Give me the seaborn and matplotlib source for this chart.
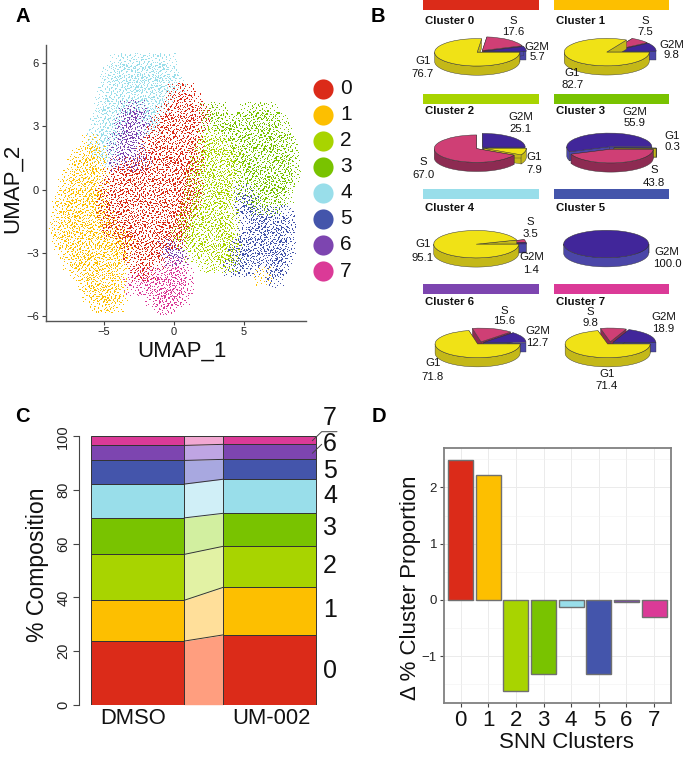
import numpy as np
import pandas as pd
import matplotlib
matplotlib.use("Agg")
import matplotlib.pyplot as plt
from matplotlib.path import Path
from matplotlib.patches import Rectangle
import seaborn as sns

sns.set_theme(style="white")
plt.rcParams["font.family"] = ["Liberation Sans", "DejaVu Sans"]

W, H = 685, 761
CLUSTERS = ["0", "1", "2", "3", "4", "5", "6", "7"]
COLORS = ["#DB2B19", "#FDBF00", "#A8D400", "#79C300", "#99DEEA", "#4455AB", "#7D45B0", "#DB3A97"]
LIGHT = ["#FF9E7F", "#FFDF9A", "#E2F2A4", "#D2EFA0", "#D0EFF7", "#A8A8E0", "#BFA5E3", "#F2A8D2"]

# Panel A: positions, row by row (UMAP_2 value, UMAP_1 values)
ROWS_4 = [(6.0, [-3.9, -3.2, -2.5, -1.8, -1.1, -0.4]), (5.5, [-4.5, -3.8, -3.1, -2.4, -1.7, -1.0, -0.3]),
          (5.0, [-4.6, -3.9, -3.2, -2.7, -2.5, -1.8, -1.1, -0.4, 0.2]), (4.5, [-4.8, -4.1, -3.4, -2.7, -2.0, -1.3, -0.6]),
          (4.0, [-5.0, -4.3, -3.6, -2.9, -2.2, -1.5, -0.9]), (3.5, [-5.1, -4.4, -3.7, -2.0, -1.4]),
          (3.0, [-5.3, -4.6, -3.9, -2.0, -1.5]), (2.5, [-5.5, -4.8, -4.2]), (2.0, [-5.4, -4.7]), (1.5, [-5.1, -4.5])]
ROWS_6 = [(3.8, [-3.2, -2.6]), (3.3, [-3.5, -2.8, -2.2]), (2.8, [-3.6, -3.0, -2.4]), (2.3, [-4.0, -3.3, -2.7]),
          (1.8, [-4.1, -3.4, -2.6]), (1.3, [-3.9, -3.0, -2.2]), (-2.8, [-0.4, 0.1]), (-3.2, [0.0, 0.4])]
ROWS_0 = [(4.6, [0.2, 0.9]), (4.1, [0.0, 0.7, 1.4]), (3.6, [-0.6, 0.1, 0.8, 1.5, 2.0]),
          (3.1, [-1.0, -0.3, 0.4, 1.1, 1.8]), (2.6, [-1.3, -0.6, 0.1, 0.8, 1.5]),
          (2.1, [-1.8, -1.1, -0.4, 0.3, 1.0, 1.6]), (1.6, [-2.0, -1.3, -0.6, 0.1, 0.8, 1.5]),
          (1.1, [-3.9, -3.2, -2.5, -1.8, -1.1, -0.4, 0.3, 1.0, 1.6]),
          (0.6, [-4.4, -3.7, -3.0, -2.3, -1.6, -0.9, -0.2, 0.5, 1.2]),
          (0.1, [-4.7, -4.0, -3.3, -2.6, -1.9, -1.2, -0.5, 0.2, 0.9, 1.5]),
          (-0.4, [-4.9, -4.2, -3.5, -2.8, -2.1, -1.4, -0.7, 0.0, 0.7, 1.4]),
          (-0.9, [-4.9, -4.2, -3.5, -2.8, -2.1, -1.4, -0.7, 0.0, 0.6, 1.1]),
          (-1.4, [-4.7, -4.0, -3.3, -2.6, -1.9, -1.2, -0.5, 0.2, 0.7]),
          (-1.9, [-4.4, -3.7, -3.0, -2.3, -1.6, -0.9, -0.2, 0.5]),
          (-2.4, [-3.5, -2.8, -2.1, -1.4, -0.7, 0.0, 0.3]), (-2.9, [-3.0, -2.3, -1.6, -0.9]),
          (-3.4, [-2.8, -2.1, -1.3]), (-3.9, [-2.4, -1.9])]
ROWS_1 = [(2.2, [-5.9]), (1.6, [-6.7, -6.0, -5.4]), (1.1, [-6.9, -6.2, -5.5]), (0.6, [-7.3, -6.6, -5.9, -5.2]),
          (0.1, [-7.6, -6.9, -6.2, -5.5]), (-0.4, [-7.8, -7.1, -6.4, -5.7, -5.2]),
          (-0.9, [-8.0, -7.3, -6.6, -5.9, -5.2]), (-1.4, [-8.1, -7.4, -6.7, -6.0, -5.3, -4.7]),
          (-1.9, [-8.2, -7.5, -6.8, -6.1, -5.4, -4.7, -4.1]),
          (-2.4, [-8.0, -7.3, -6.6, -5.9, -5.2, -4.5, -3.8, -3.3]),
          (-2.9, [-7.6, -6.9, -6.2, -5.5, -4.8, -4.1, -3.6]), (-3.4, [-7.3, -6.6, -5.9, -5.2, -4.5, -3.8]),
          (-3.9, [-6.8, -6.1, -5.4, -4.7, -4.0]), (-4.1, [6.4]), (-4.4, [-6.2, -5.5, -4.8, -4.1]),
          (-4.9, [-5.9, -5.2, -4.5, -3.9]), (-5.4, [-5.4, -4.8, -4.2])]
ROWS_7 = [(-3.6, [-0.2, 0.4]), (-4.1, [-2.6, -1.9, -1.2, -0.5, 0.2, 0.8]),
          (-4.6, [-2.9, -2.0, -1.3, -0.6, 0.1, 0.8]), (-5.1, [-1.4, -0.7, 0.0, 0.5]), (-5.5, [-0.8, -0.4])]
ROWS_2 = [(2.5, [2.3, 3.0]), (2.0, [2.2, 2.9, 3.6, 4.2]), (1.5, [1.8, 2.5, 3.2, 3.9, 4.5]),
          (1.0, [1.6, 2.3, 3.0, 3.7, 4.4]), (0.5, [1.5, 2.2, 2.9, 3.6, 4.2]), (0.0, [1.4, 2.1, 2.8, 3.5, 4.1]),
          (-0.5, [1.3, 2.0, 2.7, 3.4, 3.9]), (-1.0, [1.1, 1.8, 2.5, 3.2, 3.9]),
          (-1.5, [0.8, 1.5, 2.2, 2.9, 3.6, 4.1]), (-2.0, [0.5, 1.2, 1.9, 2.6, 3.3, 4.0]),
          (-2.5, [0.9, 1.6, 2.3, 3.0, 3.7, 4.2]), (-3.0, [1.4, 2.1, 2.8, 3.5, 4.1]), (-3.5, [2.3, 3.0, 3.7, 4.2])]
ROWS_3 = [(3.7, [2.5, 3.2, 5.4, 6.1, 6.8]), (3.2, [2.7, 3.4, 4.1, 4.8, 5.5, 6.2, 6.9, 7.6]),
          (2.7, [3.6, 4.3, 5.0, 5.7, 6.4, 7.1, 7.8]), (2.2, [4.7, 5.4, 6.1, 6.8, 7.5, 8.2]),
          (1.7, [4.8, 5.5, 6.2, 6.9, 7.6, 8.3]), (1.2, [4.9, 5.6, 6.3, 7.0, 7.7, 8.4]),
          (0.7, [5.0, 5.7, 6.4, 7.1, 7.8, 8.4]), (0.2, [5.2, 5.9, 6.6, 7.3, 8.0]),
          (-0.3, [5.3, 6.0, 6.7, 7.4, 7.9]), (-0.8, [6.1, 7.0])]
ROWS_5 = [(-0.2, [5.0]), (-0.7, [5.0, 5.6]), (-1.2, [5.1, 5.8, 6.5, 7.2, 8.0]),
          (-1.7, [5.5, 6.2, 6.9, 7.6, 8.1]), (-2.2, [5.2, 5.9, 6.6, 7.3, 8.0]),
          (-2.7, [4.7, 5.4, 6.1, 6.8, 7.5, 8.1]), (-3.2, [4.6, 5.3, 6.0, 6.7, 7.4, 7.9]),
          (-3.7, [4.2, 4.9, 5.6, 7.2, 7.6]), (-4.2, [7.2])]
ALL_ROWS = {"4": ROWS_4, "1": ROWS_1, "2": ROWS_2, "3": ROWS_3, "5": ROWS_5, "7": ROWS_7, "0": ROWS_0, "6": ROWS_6}

# Panel B: cell cycle shares, in drawing order
PHASES = ["G2M", "S", "G1"]
G2M = [5.7, 9.8, 25.1, 55.9, 1.4, 100.0, 12.7, 18.9]
S = [17.6, 7.5, 67.0, 43.8, 3.5, 0.0, 15.6, 9.8]
G1 = [76.7, 82.7, 7.9, 0.3, 95.1, 0.0, 71.8, 71.4]
PHASE_TOP = ["#41269A", "#CF3F75", "#F0E216"]
PHASE_SIDE = ["#4B46A8", "#8D2B52", "#C4B818"]

# Panel C
GROUPS = ["DMSO", "UM-002"]
DMSO = [23.7, 15.2, 17.1, 13.6, 12.6, 8.8, 5.6, 3.4]
UM002 = [26.0, 17.7, 15.3, 12.3, 12.7, 7.4, 5.6, 3.0]

# Panel D
DELTA = [2.49, 2.22, -1.62, -1.31, -0.13, -1.32, -0.04, -0.31]

fig = plt.figure(figsize=(W / 100, H / 100), dpi=100, facecolor="white")


def px_axes(left, top, right, bottom):
    return fig.add_axes([left / W, 1 - bottom / H, (right - left) / W, (bottom - top) / H])


ov = fig.add_axes([0, 0, 1, 1], zorder=10)
ov.set_xlim(0, W)
ov.set_ylim(H, 0)
ov.axis("off")
ov.patch.set_alpha(0)


def label(x, y, s, size, **kw):
    ov.text(x, y, s, fontsize=size, ha=kw.pop("ha", "center"), va="center", color=kw.pop("color", "#111111"), **kw)


for (x, y, s) in [(23, 16, "A"), (378, 16, "B"), (22, 416, "C"), (379, 416, "D")]:
    label(x, y, s, 14.5, fontweight="bold", color="black")

# ---------- Panel A ----------
# small speckle markers, so each read position shows as a patch of fine cell dots
SPECKLE = [(-0.92, 0.12), (-0.78, -0.35), (-0.71, 0.58), (-0.55, -0.71), (-0.48, 0.07), (-0.44, 0.83), (-0.31, -0.29),
           (-0.24, 0.41), (-0.17, -0.88), (-0.08, 0.03), (-0.02, 0.71), (0.05, -0.52), (0.16, 0.33), (0.2, -0.13),
           (0.28, 0.91), (0.35, -0.77), (0.42, 0.56), (0.47, -0.31), (0.6, 0.11), (0.66, -0.58), (0.7, 0.76),
           (0.81, -0.16), (0.88, 0.38), (0.93, -0.74), (-0.66, -0.08), (-0.38, -0.56), (0.1, -0.93), (-0.86, 0.79)]
DOT = 0.058


def speckle_path(rot):
    verts, codes = [], []
    for (sx, sy) in SPECKLE + [(1.0, 1.0), (-1.0, -1.0)]:
        for _ in range(rot):
            sx, sy = -sy, sx
        d = DOT if max(abs(sx), abs(sy)) < 1 else 0.0001
        verts += [(sx - d, sy - d), (sx + d, sy - d), (sx + d, sy + d), (sx - d, sy + d), (sx - d, sy - d)]
        codes += [Path.MOVETO, Path.LINETO, Path.LINETO, Path.LINETO, Path.CLOSEPOLY]
    return Path(verts, codes)


records = []
for c, rows in ALL_ROWS.items():
    for r, (y, xs) in enumerate(rows):
        for j, x in enumerate(xs):
            records.append((x, y, c, str((r * 3 + j) % 4)))
umap = pd.DataFrame(records, columns=["UMAP_1", "UMAP_2", "cluster", "texture"])

axA = px_axes(45.7, 45, 306, 320.5)
sns.scatterplot(data=umap, x="UMAP_1", y="UMAP_2", hue="cluster", style="texture",
                palette=dict(zip(CLUSTERS, COLORS)),
                markers={str(k): speckle_path(k) for k in range(4)},
                s=190, linewidth=0, legend=False, ax=axA, zorder=3)
axA.set_xlim(-9.13, 9.46)
axA.set_ylim(-6.2, 6.84)
axA.set_xticks([-5, 0, 5])
axA.set_yticks([-6, -3, 0, 3, 6])
axA.set_xticklabels(["\u22125", "0", "5"])
axA.set_yticklabels(["\u22126", "\u22123", "0", "3", "6"])
axA.set_xlabel("")
axA.set_ylabel("")
axA.tick_params(labelsize=8, length=3, width=0.8, color="#444444", labelcolor="#222222", bottom=True, left=True, pad=2)
sns.despine(ax=axA)
for sp in ("left", "bottom"):
    axA.spines[sp].set_color("#555555")
    axA.spines[sp].set_linewidth(1.0)
label(182, 351, "UMAP_1", 16)
label(12, 188, "UMAP_2", 16, rotation=90)
for i, c in enumerate(CLUSTERS):
    yy = 88.7 + i * 26.05
    ov.plot([323], [yy], marker="o", ms=14.5, color=COLORS[i], mec="none")
    label(346, yy, c, 15)

# ---------- Panel B ----------
CENTERS = [(480, 51.5), (610, 51.5), (480, 148), (610, 148), (480, 244), (610, 244), (480, 343), (610, 343)]
BAR_X = [423.3, 553.7]
BAR_Y = [0, 94.3, 189.3, 284.3]
TITLE_Y = [20.7, 111, 207.7, 302]
RX, RY, DEPTH_PX = 42.5, 13.7, 9.2
EXPLODE = 0.09
DEPTH = DEPTH_PX / RY

for i in range(8):
    col, row = i % 2, i // 2
    ov.add_patch(Rectangle((BAR_X[col], BAR_Y[row]), 115.5, 10, fc=COLORS[i], ec="none"))
    ov.text(BAR_X[col] + 2, TITLE_Y[row], f"Cluster {i}", fontsize=8.2, fontweight="bold", ha="left", va="center",
            color="#111111")
    vals = [G2M[i], S[i], G1[i]]
    cx, cy = CENTERS[i]
    ax = px_axes(cx - 1.3 * RX, cy - 1.3 * RY, cx + 1.3 * RX, cy + 2.2 * RY)
    wedges, _ = ax.pie(vals, startangle=0, radius=1, explode=[EXPLODE] * 3, colors=PHASE_TOP,
                       wedgeprops=dict(edgecolor="#333333", linewidth=0.35))
    ax.set_aspect("auto")
    ax.set_xlim(-1.3, 1.3)
    ax.set_ylim(-2.2, 1.3)
    ax.axis("off")
    cum = np.cumsum([0] + vals) * 3.6
    order = sorted(range(3), key=lambda k: -np.sin(np.radians((cum[k] + cum[k + 1]) / 2)))
    for rank, k in enumerate(order):
        a, b = cum[k], cum[k + 1]
        if b - a <= 0:
            wedges[k].set_visible(False)
            continue
        m = np.radians((a + b) / 2)
        ox, oy = EXPLODE * np.cos(m), EXPLODE * np.sin(m)
        z = 2 + 2 * rank
        wedges[k].set_zorder(z + 1)
        for t in (a, b):
            tr = np.radians(t)
            ax.fill([ox, ox + np.cos(tr), ox + np.cos(tr), ox], [oy, oy + np.sin(tr), oy + np.sin(tr) - DEPTH, oy - DEPTH],
                    fc=PHASE_SIDE[k], ec="#333333", lw=0.25, zorder=z)
        lo, hi = max(a, 180), min(b, 360)
        if hi > lo:
            tt = np.radians(np.linspace(lo, hi, 60))
            xs = ox + np.cos(tt)
            ys = oy + np.sin(tt)
            ax.fill(np.r_[xs, xs[::-1]], np.r_[ys, ys[::-1] - DEPTH], fc=PHASE_SIDE[k], ec="#333333", lw=0.3, zorder=z)

PIE_LABELS = [(513, 21, 32, "S", "17.6"), (537, 47.3, 57, "G2M", "5.7"), (422.7, 61.3, 74.3, "G1", "76.7"),
              (645, 21, 32, "S", "7.5"), (671.7, 45, 55, "G2M", "9.8"), (572.3, 73.3, 85.3, "G1", "82.7"),
              (520.7, 117.3, 129, "G2M", "25.1"), (534, 157.3, 169.7, "G1", "7.9"), (423.3, 162.3, 175, "S", "67.0"),
              (635, 111.7, 122.7, "G2M", "55.9"), (672, 136, 147.3, "G1", "0.3"), (654, 170, 182.7, "S", "43.8"),
              (530, 221.7, 234, "S", "3.5"), (422.7, 244.3, 257.7, "G1", "95.1"), (531.3, 257.3, 270, "G2M", "1.4"),
              (667, 251.7, 264.3, "G2M", "100.0"),
              (504, 310.7, 321, "S", "15.6"), (537.7, 331, 343.3, "G2M", "12.7"), (432.7, 362.7, 376.7, "G1", "71.8"),
              (590.3, 312.3, 323.3, "S", "9.8"), (663.7, 317, 328.7, "G2M", "18.9"), (606.7, 374.3, 386, "G1", "71.4")]
for (x, y1, y2, name, val) in PIE_LABELS:
    label(x, y1, name, 8.2)
    label(x, y2, val, 8.2)

# ---------- Panel C ----------
axC = px_axes(79.3, 436.3, 317, 704.7)
BAR_W = 93.5
pos_px = [90.7 + BAR_W / 2, 223 + BAR_W / 2]
bottoms = [0.0, 0.0]
for i in range(8):
    heights = [DMSO[i], UM002[i]]
    axC.bar(pos_px, heights, bottom=bottoms, width=BAR_W, color=COLORS[i], edgecolor="#333333", linewidth=0.7, zorder=3)
    tops = [bottoms[0] + heights[0], bottoms[1] + heights[1]]
    xs = [pos_px[0] + BAR_W / 2, pos_px[1] - BAR_W / 2]
    axC.fill_between(xs, bottoms, tops, color=LIGHT[i], linewidth=0, zorder=2)
    axC.plot(xs, tops, color="#333333", lw=0.7, zorder=4)
    bottoms = tops
axC.plot([xs[0], xs[1]], [0, 0], color="#555555", lw=0.7, zorder=4)
axC.set_xlim(79.3, 317)
axC.set_ylim(0, 100)
axC.set_xticks([])
axC.set_yticks([0, 20, 40, 60, 80, 100])
axC.set_yticklabels(["0", "20", "40", "60", "80", "100"], rotation=90, va="center", fontsize=10.5, color="#222222")
axC.tick_params(axis="y", length=4.5, width=0.8, color="#444444", left=True, pad=2)
axC.patch.set_alpha(0)
sns.despine(ax=axC, bottom=True)
axC.spines["left"].set_color("#444444")
axC.spines["left"].set_linewidth(0.8)
label(38, 565, "% Composition", 16.6, rotation=90)
label(133.5, 719, GROUPS[0], 15.8)
label(271.7, 719, GROUPS[1], 15.8)
C_NUM_Y = [670.7, 610, 565.7, 528, 496, 470.7, 444, 418]
for c, yy in zip(CLUSTERS, C_NUM_Y):
    label(330, yy, c, 18)
ov.plot([312.3, 321.7, 337], [440.7, 431.7, 431.7], color="#444444", lw=0.7)
ov.plot([312.3, 321.7], [453.3, 444.3], color="#444444", lw=0.7)

# ---------- Panel D ----------
axD = px_axes(444, 448, 670.7, 703.3)
sns.barplot(x=CLUSTERS, y=DELTA, hue=CLUSTERS, palette=dict(zip(CLUSTERS, COLORS)), legend=False, width=0.9,
            edgecolor="#707070", linewidth=1.0, saturation=1, ax=axD, zorder=3)
axD.set_xlim(-0.6, 7.6)
axD.set_ylim(-1.835, 2.70)
axD.set_yticks([-1, 0, 1, 2])
axD.set_yticklabels(["\u22121", "0", "1", "2"])
axD.set_yticks([-1.5, -0.5, 0.5, 1.5, 2.5], minor=True)
axD.grid(True, which="major", color="#EBEBEB", lw=0.7)
axD.grid(True, which="minor", axis="y", color="#F2F2F2", lw=0.4)
axD.set_axisbelow(True)
axD.tick_params(axis="y", labelsize=9.5, length=3, width=0.8, color="#444444", left=True, labelcolor="#222222", pad=2)
axD.tick_params(axis="y", which="minor", length=0)
axD.tick_params(axis="x", labelsize=16, length=3, width=0.8, color="#444444", bottom=True, labelcolor="#111111", pad=2)
for sp in axD.spines.values():
    sp.set_color("#808080")
    sp.set_linewidth(1.3)
label(566.7, 742.7, "SNN Clusters", 16)
label(411, 588, "\u0394 % Cluster Proportion", 16, rotation=90)

fig.savefig("out.png", dpi=100)
